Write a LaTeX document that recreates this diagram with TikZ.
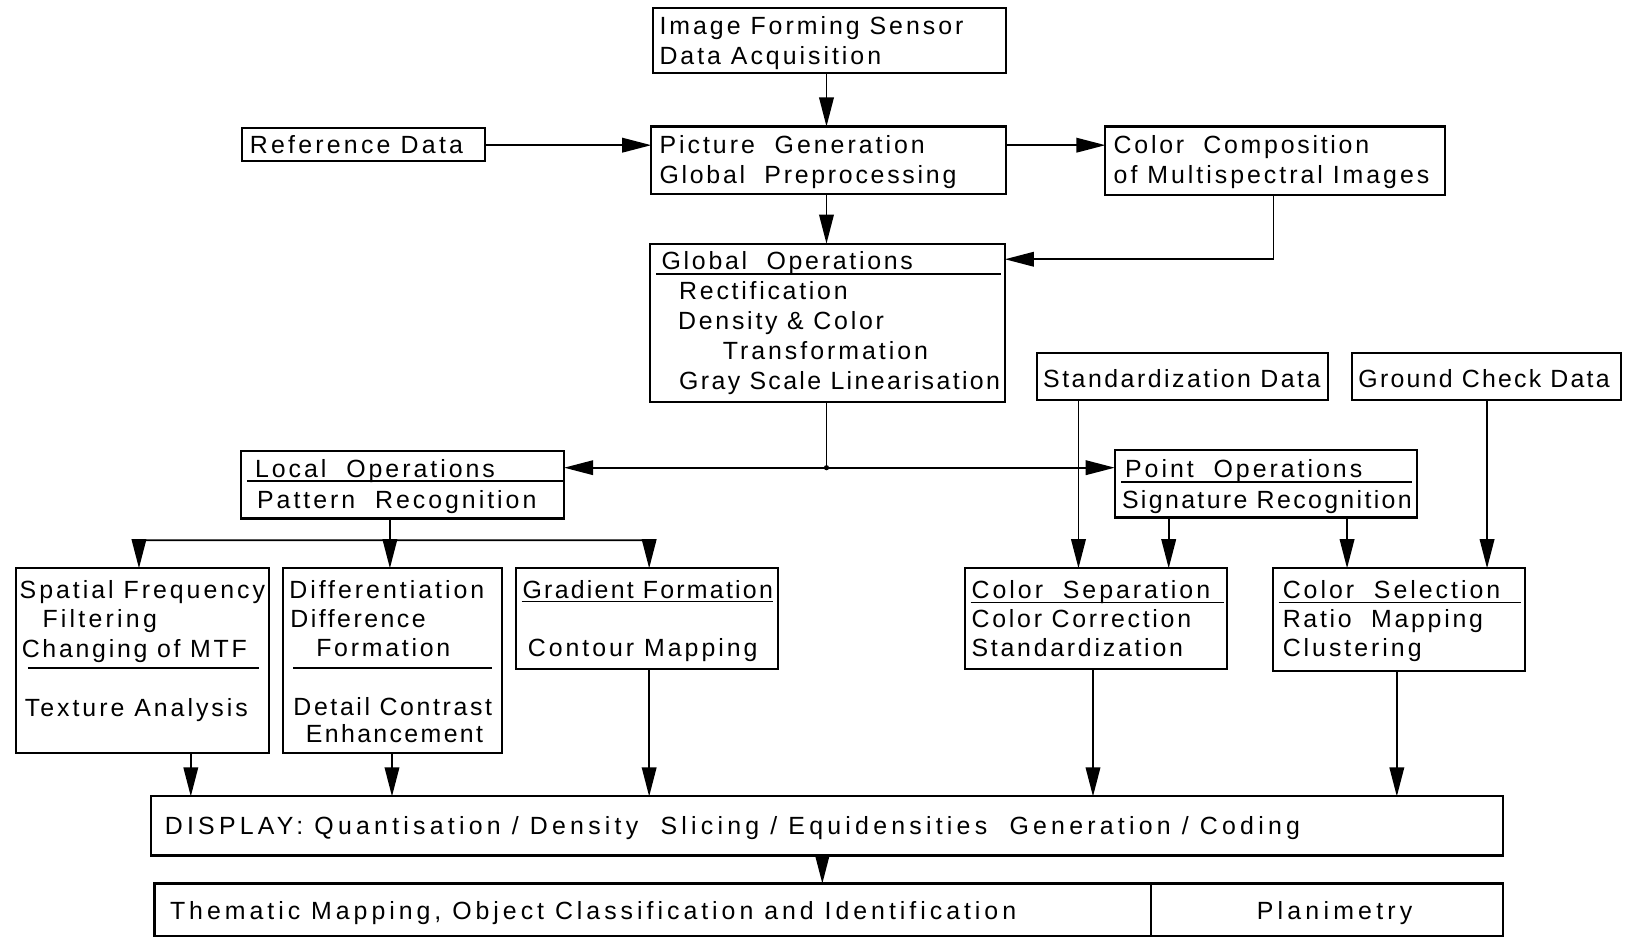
\documentclass[tikz,border=0pt]{standalone}
\usepackage{fontspec}
\setmainfont{Liberation Sans}[LetterSpace=11]
\usetikzlibrary{arrows.meta,fit}
\tikzset{
  box/.style={draw, line width=2pt, inner sep=0pt, outer sep=0pt, rectangle},
  ln/.style={line width=1.8pt},
  arr/.style={line width=1.8pt, -{Triangle[length=28pt,width=14pt]}},
  txt/.style={inner sep=0pt, outer sep=0pt, anchor=base west, font=\fontsize{24}{29}\selectfont},
  lsp/.style={font=\fontsize{24}{29}\selectfont\addfontfeatures{LetterSpace=#1}},
  ctxt/.style={txt, anchor=base}
}
\begin{document}
\begin{tikzpicture}[x=1pt,y=-1pt]
\useasboundingbox (0,0) rectangle (1568,905);
% boxes
\node (sensor) [box, fit={(630,8) (970,70)}] {};
\node (ref)    [box, fit={(233,123) (468,155)}] {};
\node (pic)    [box, fit={(628,122) (970,187)}] {};
\node (comp)   [box, fit={(1066,122) (1393,188)}] {};
\node (glob)   [box, fit={(627,235) (969,388)}] {};
\node (std)    [box, fit={(1000,340) (1281,386)}] {};
\node (gnd)    [box, fit={(1304,340) (1563,386)}] {};
\node (loc)    [box, fit={(232,435) (544,500)}] {};
\node (pnt)    [box, fit={(1075,434) (1366,499)}] {};
\node (spat)   [box, fit={(15,548) (259,726)}] {};
\node (diff)   [box, fit={(273,548) (484,726)}] {};
\node (grad)   [box, fit={(498,548) (750,645)}] {};
\node (csep)   [box, fit={(931,548) (1183,645)}] {};
\node (csel)   [box, fit={(1228,548) (1471,647)}] {};
\node (disp)   [box, fit={(146,768) (1449,825)}] {};
\node (them)   [box, fit={(149,852) (1110,903)}] {};
\node (plan)   [box, fit={(1110,852) (1449,903)}] {};
% inner rules
\draw[ln] (633,264) -- (965,264);
\draw[ln] (238,464) -- (543,464);
\draw[ln] (1081,465) -- (1362,465);
\draw[ln] (27,644) -- (250,644);
\draw[ln] (283,644) -- (474,644);
\draw[ln] (503,580) -- (745,580);
\draw[ln] (936,581) -- (1180,581);
\draw[ln] (1233,581) -- (1467,581);
% texts
\node (t1) [txt, lsp=12] at (636,33) {Image Forming Sensor};
\node (t2) [txt, lsp=12] at (636,62) {Data Acquisition};
\node (t3) [txt, lsp=13] at (241,148) {Reference Data};
\node (t4) [txt, lsp=12] at (636,148) {Picture~ Generation};
\node (t5) [txt] at (636,177) {Global~ Preprocessing};
\node (t6) [txt] at (1074,148) {Color~ Composition};
\node (t7) [txt, lsp=12] at (1074,177) {of Multispectral Images};
\node (t8) [txt] at (638,260) {Global~ Operations};
\node (t9) [txt] at (655,289) {Rectification};
\node (t10) [txt] at (654,318) {Density \& Color};
\node (t11) [txt, lsp=12] at (697,347) {Transformation};
\node (t12) [txt, lsp=9.5] at (655,376) {Gray Scale Linearisation};
\node (t13) [txt, lsp=10] at (1006,374) {Standardization Data};
\node (t14) [txt, lsp=9] at (1310,374) {Ground Check Data};
\node (t15) [txt, lsp=12] at (246,460) {Local~ Operations};
\node (t16) [txt, lsp=12] at (248,490) {Pattern~ Recognition};
\node (t17) [txt, lsp=12] at (1085,460) {Point~ Operations};
\node (t18) [txt, lsp=9.5] at (1082,490) {Signature Recognition};
\node (t19) [txt, lsp=12] at (19,577) {Spatial Frequency};
\node (t20) [txt, lsp=13] at (41,605) {Filtering};
\node (t21) [txt] at (21,634) {Changing of MTF};
\node (t22) [txt, lsp=12] at (24,691) {Texture Analysis};
\node (t23) [txt, lsp=12] at (279,577) {Differentiation};
\node (t24) [txt, lsp=10] at (280,605) {Difference};
\node (t25) [txt] at (305,633) {Formation};
\node (t26) [txt, lsp=10.5] at (283,690) {Detail Contrast};
\node (t27) [txt, lsp=9.5] at (295,716) {Enhancement};
\node (t28) [txt, lsp=9] at (504,577) {Gradient Formation};
\node (t29) [txt, lsp=12] at (509,633) {Contour Mapping};
\node (t30) [txt, lsp=12] at (937,577) {Color~ Separation};
\node (t31) [txt] at (937,605) {Color Correction};
\node (t32) [txt] at (937,633) {Standardization};
\node (t33) [txt, lsp=12] at (1237,577) {Color~ Selection};
\node (t34) [txt] at (1237,605) {Ratio~ Mapping};
\node (t35) [txt, lsp=12] at (1237,633) {Clustering};
\node (t36) [txt, lsp=17] at (159,805) {DISPLAY: Quantisation / Density~ Slicing / Equidensities~ Generation / Coding};
\node (t37) [txt, lsp=16] at (164,887) {Thematic Mapping, Object Classification and Identification};
\node (t38) [ctxt, lsp=17] at (1287,887) {Planimetry};
% x / y helper coordinates
\coordinate (x797) at (797,0);
\coordinate (y140) at (0,140);
\coordinate (y250) at (0,250);
\coordinate (x1228) at (1228,0);
\coordinate (x1040) at (1040,0);
\coordinate (x1127) at (1127,0);
\coordinate (x1299) at (1299,0);
\coordinate (x1434) at (1434,0);
\coordinate (x376) at (376,0);
\coordinate (x134) at (134,0);
\coordinate (x626) at (626,0);
\coordinate (x184) at (184,0);
\coordinate (x378) at (378,0);
\coordinate (x1054) at (1054,0);
\coordinate (x1347) at (1347,0);
\coordinate (x793) at (793,0);
\coordinate (j) at (797,451);
\coordinate (lj) at (376,521);
% connectors
\draw[arr] (sensor.south -| x797) -- (pic.north -| x797);
\draw[arr] (ref.east |- y140) -- (pic.west |- y140);
\draw[arr] (pic.east |- y140) -- (comp.west |- y140);
\draw[arr] (pic.south -| x797) -- (glob.north -| x797);
\draw[arr] (comp.south -| x1228) |- (glob.east |- y250);
\draw[ln] (glob.south -| x797) -- (j);
\fill (j) circle (2.5pt);
\draw[arr] (j) -- (j -| loc.east);
\draw[arr] (j) -- (j -| pnt.west);
\draw[arr] (std.south -| x1040) -- (csep.north -| x1040);
\draw[arr] (pnt.south -| x1127) -- (csep.north -| x1127);
\draw[arr] (pnt.south -| x1299) -- (csel.north -| x1299);
\draw[arr] (gnd.south -| x1434) -- (csel.north -| x1434);
\draw[ln] (loc.south -| x376) -- (lj);
\draw[arr, rounded corners=4pt] (lj) -| (spat.north -| x134);
\draw[arr] (lj) -- (diff.north -| x376);
\draw[arr, rounded corners=4pt] (lj) -| (grad.north -| x626);
\draw[arr] (spat.south -| x184) -- (disp.north -| x184);
\draw[arr] (diff.south -| x378) -- (disp.north -| x378);
\draw[arr] (grad.south -| x626) -- (disp.north -| x626);
\draw[arr] (csep.south -| x1054) -- (disp.north -| x1054);
\draw[arr] (csel.south -| x1347) -- (disp.north -| x1347);
\draw[arr] (disp.south -| x793) -- (them.north -| x793);
\end{tikzpicture}
\end{document}
